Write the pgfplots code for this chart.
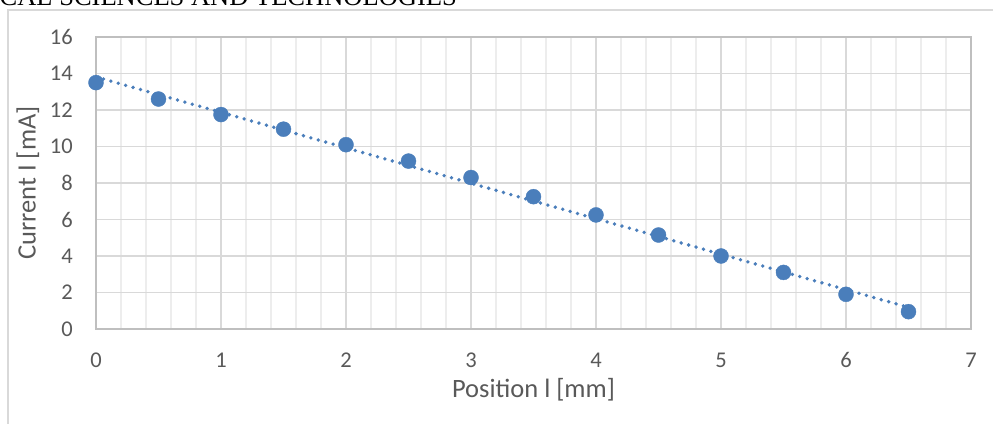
\documentclass[border=0pt]{standalone}
\usepackage{fontspec}
\setmainfont{Carlito}
\newfontfamily\headfont{Liberation Serif}
\usepackage{pgfplots}
\usepackage{pgfplotstable}
\pgfplotsset{compat=1.18}

\definecolor{ptblue}{HTML}{4A7EBB}
\definecolor{txtgray}{HTML}{595959}
\definecolor{gridmaj}{HTML}{D9D9D9}
\definecolor{gridmin}{HTML}{EDEDED}
\definecolor{axgray}{HTML}{BFBFBF}

\pgfplotstableread{
x    y
0    13.5
0.5  12.6
1    11.75
1.5  10.95
2    10.1
2.5  9.2
3    8.3
3.5  7.25
4    6.25
4.5  5.15
5    4.0
5.5  3.1
6    1.9
6.5  0.95
}\current

\begin{document}
\begin{tikzpicture}
\useasboundingbox (0,0) rectangle (993pt,423pt);
% clipped page header above the chart
\node[anchor=base east, inner sep=0pt, font=\headfont\fontsize{26.5}{30}\selectfont, text=black]
  at (457pt,417pt) {CAL SCIENCES AND TECHNOLOGIES};
% chart area border
\draw[gridmaj, line width=1.5pt] (8pt,-2pt) -- (8pt,413pt) -- (1000pt,413pt);

\begin{axis}[
  at={(96pt,94pt)}, anchor=south west,
  width=875pt, height=292pt, scale only axis,
  xmin=0, xmax=7, ymin=0, ymax=16,
  xtick={0,1,...,7}, ytick={0,2,...,16},
  minor x tick num=4,
  grid=both,
  major grid style={gridmaj, line width=1.2pt},
  minor grid style={gridmin, line width=1.2pt},
  axis line style={axgray, line width=1.5pt},
  tick style={draw=none},
  every tick label/.append style={font=\fontsize{22.5}{26}\selectfont, text=txtgray},
  xticklabel style={anchor=base, yshift=-38pt},
  yticklabel style={anchor=east, inner sep=0pt, xshift=-23pt},
  /pgf/number format/assume math mode=true,
  xlabel={Position l [mm]},
  ylabel={Current I [mA]},
  label style={font=\fontsize{26.5}{30}\selectfont, text=txtgray},
  xlabel style={at={(axis description cs:0.5,-0.236)}, anchor=base},
  ylabel style={at={(axis description cs:-0.078,0.5)}, anchor=center, rotate=0},
  clip=false,
]
\addplot[ptblue, line width=3.8pt, line cap=round, dash pattern=on 0pt off 7.7pt]
  table[x=x, y={create col/linear regression={y=y}}] {\current};
\addplot[only marks, mark=*, mark size=7.5pt, mark options={fill=ptblue, draw=ptblue}]
  table[x=x, y=y] {\current};
\end{axis}
\end{tikzpicture}
\end{document}
